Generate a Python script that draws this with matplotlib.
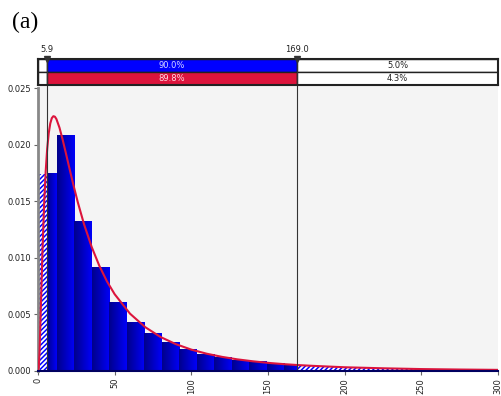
import numpy as np
import matplotlib
matplotlib.use("Agg")
import matplotlib.pyplot as plt
from matplotlib.colors import LinearSegmentedColormap

# histogram (density per bin)
bin_start = 0.8
bin_width = 11.42
density = [0.01746, 0.02086, 0.01323, 0.00914, 0.00604, 0.00426, 0.00328,
           0.00249, 0.00186, 0.00142, 0.00115, 0.00095, 0.00080, 0.00068,
           0.00056, 0.00048, 0.00041, 0.00035, 0.00030, 0.00027, 0.00024,
           0.00021, 0.00019, 0.00017, 0.00015, 0.00013]

# fitted curve
fit_x = [0, 0.5, 1, 1.5, 2, 3, 4, 5, 6, 7, 8, 9, 10, 11, 12, 14, 16, 18, 20,
         23, 26, 30, 35, 40, 45, 50, 60, 70, 80, 90, 100, 110, 120, 130, 140,
         150, 160, 170, 180, 200, 225, 250, 275, 300]
fit_y = [0.0, 0.00029, 0.00169, 0.00386, 0.00629, 0.01095, 0.01476, 0.01762,
         0.01966, 0.02103, 0.02189, 0.02236, 0.02253, 0.02249, 0.02228,
         0.02152, 0.02050, 0.01937, 0.01821, 0.01650, 0.01490, 0.01299,
         0.01097, 0.00930, 0.00792, 0.00679, 0.00507, 0.00387, 0.00300,
         0.00237, 0.00189, 0.00153, 0.00125, 0.00103, 0.00086, 0.00072,
         0.00061, 0.00052, 0.00045, 0.00033, 0.00024, 0.00017, 0.00013,
         0.00010]

left_mark, right_mark = 5.9, 169.0
mid_pct = ["90.0%", "89.8%"]
right_pct = ["5.0%", "4.3%"]
yticks = [0.000, 0.005, 0.010, 0.015, 0.020, 0.025]
xticks = [0, 50, 100, 150, 200, 250, 300]

W, H = 502, 396
BLUE, RED, GRID_BG = "#0000ff", "#dc143c", "#f4f4f4"
LINE = "#333333"

plt.rcParams["hatch.linewidth"] = 1.1

fig = plt.figure(figsize=(W / 100, H / 100), dpi=100, facecolor="white")
ax = fig.add_axes([38 / W, 1 - 371 / H, 460 / W, 286 / H])
ax.set_facecolor(GRID_BG)
ax.set_xlim(0, 300)
ax.set_ylim(0, 0.02529)

grad = LinearSegmentedColormap.from_list("g", ["#00008c", "#0000f8"])
ramp = np.linspace(0, 1, 32).reshape(1, -1)
edges = bin_start + bin_width * np.arange(len(density) + 1)
for l, r, h in zip(edges[:-1], edges[1:], density):
    r = min(r, 300)
    # solid part inside the marked interval
    sl, sr = max(l, left_mark), min(r, right_mark)
    if sr > sl:
        ax.imshow(ramp, cmap=grad, extent=[sl, sr, 0, h], aspect="auto",
                  interpolation="bilinear", zorder=2)
    # hatched parts outside it
    for hl, hr in ((l, min(r, left_mark)), (max(l, right_mark), r)):
        if hr > hl:
            ax.bar(hl, h, width=hr - hl, align="edge", facecolor="white",
                   edgecolor=BLUE, hatch="///////", linewidth=0, zorder=2)

ax.plot(fit_x, fit_y, color=RED, lw=1.5, zorder=4)
for m in (left_mark, right_mark):
    ax.axvline(m, color=LINE, lw=0.8, zorder=5)

ax.set_xticks(xticks)
ax.set_yticks(yticks)
ax.set_yticklabels([f"{v:.3f}" for v in yticks])
ax.tick_params(labelsize=6, length=3, width=0.8, color="#666666",
               labelcolor="#222222", pad=2)
ax.tick_params(axis="x", labelrotation=90)
for s in ("top", "right"):
    ax.spines[s].set_visible(False)
ax.spines["left"].set_color("#888888")
ax.spines["left"].set_linewidth(2)
ax.spines["left"].set_bounds(0, 0.025)
ax.spines["bottom"].set_color("#000060")
ax.spines["bottom"].set_linewidth(1.5)
ax.spines["bottom"].set_zorder(6)

# percentage band above the plot
bx = fig.add_axes([38 / W, 1 - 85 / H, 460 / W, 26 / H])
bx.set_xlim(0, 300)
bx.set_ylim(0, 2)
bx.set_xticks([])
bx.set_yticks([])
for s in bx.spines.values():
    s.set_color("#222222")
    s.set_linewidth(1.5)
for row, (col, txtcol, mid, rt) in enumerate(zip(
        [BLUE, RED], ["#d8d8ff", "#ffd8e0"], mid_pct, right_pct)):
    y = 1.5 - row
    bx.barh(y, left_mark, left=0, height=1, color="white",
            edgecolor="#222222", lw=1)
    bx.barh(y, right_mark - left_mark, left=left_mark, height=1, color=col,
            edgecolor="#222222", lw=1)
    bx.barh(y, 300 - right_mark, left=right_mark, height=1, color="white",
            edgecolor="#222222", lw=1)
    bx.text((left_mark + right_mark) / 2, y, mid, ha="center", va="center",
            fontsize=6, color=txtcol)
    bx.text((right_mark + 300) / 2, y, rt, ha="center", va="center",
            fontsize=6, color="#222222")
for m, lab in ((left_mark, "5.9"), (right_mark, "169.0")):
    bx.axvline(m, color=LINE, lw=0.8)
    bx.plot([m], [2], marker="v", ms=5, color="#333333", clip_on=False,
            zorder=6)
    bx.text(m, 2.35, lab, ha="center", va="bottom", fontsize=6,
            color="#222222")

fig.text(12 / W, 1 - 28 / H, "(a)", fontsize=17, family="Liberation Serif",
         ha="left", va="baseline")

fig.savefig("out.png", dpi=100, facecolor="white")
